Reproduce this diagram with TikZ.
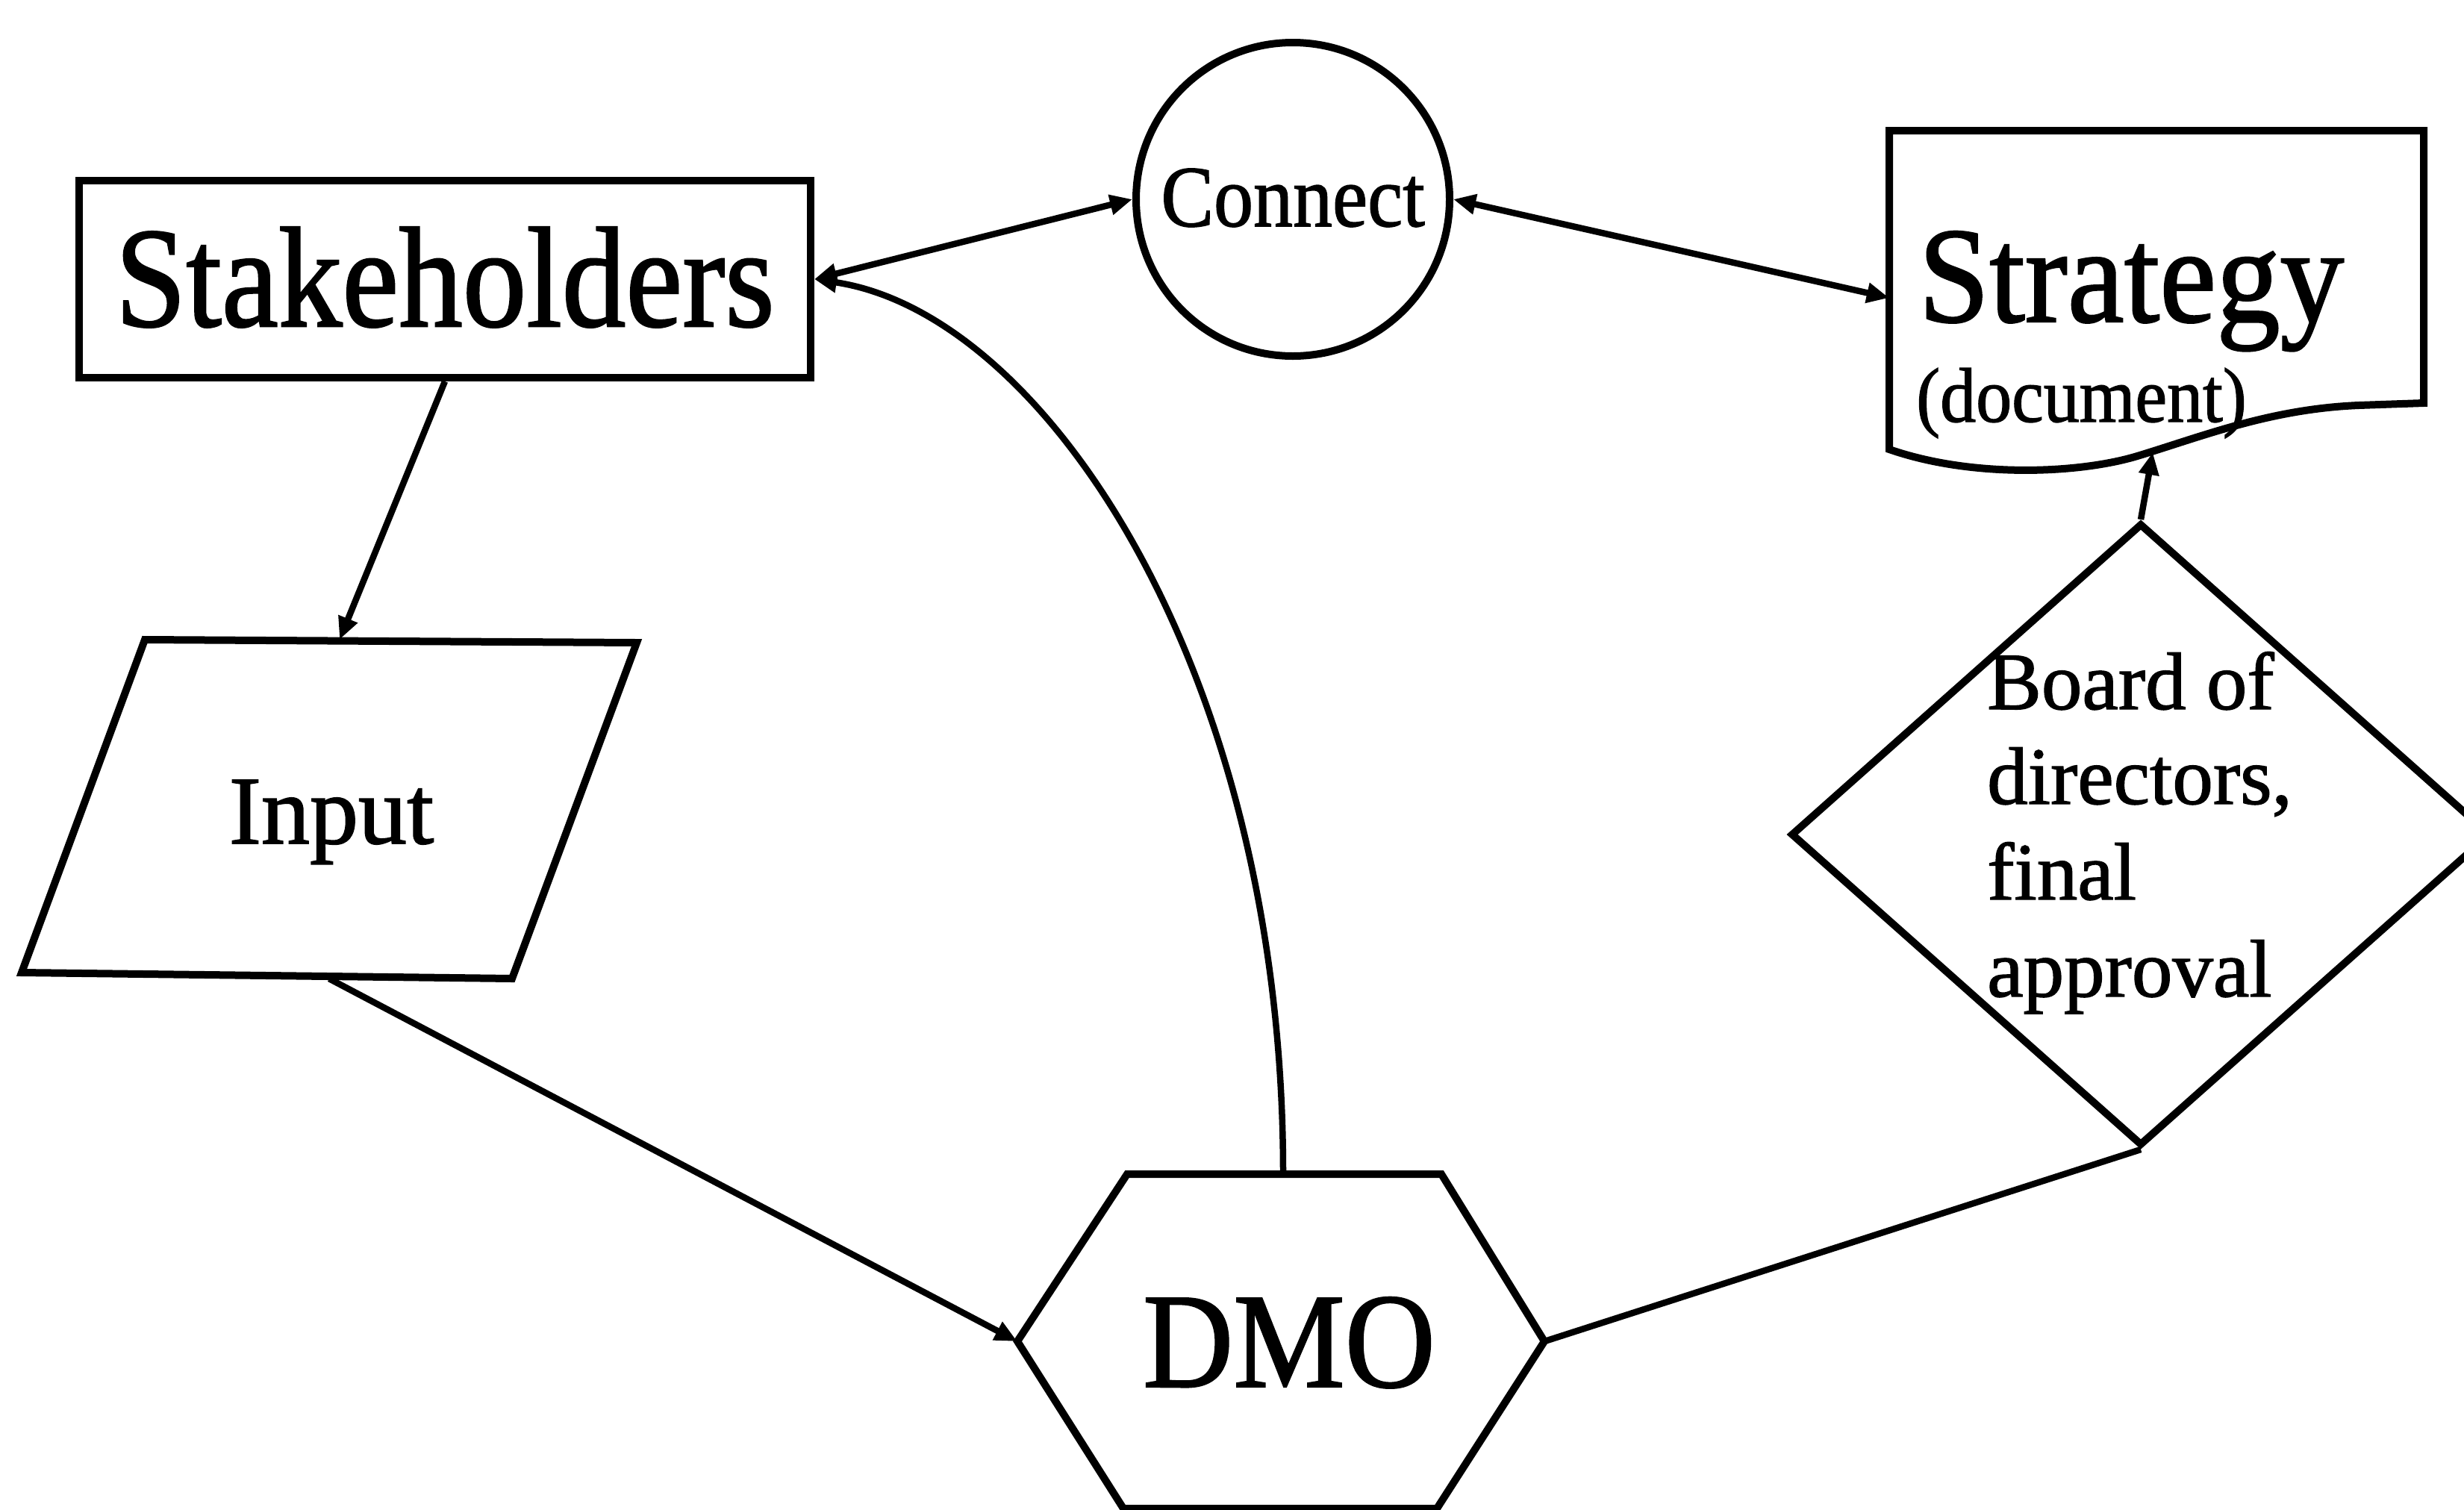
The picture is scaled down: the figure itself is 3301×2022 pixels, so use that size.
\documentclass[tikz,border=0pt]{standalone}
\usepackage{fontspec}
\setmainfont{Liberation Serif}
\newfontfamily\printface{Liberation Serif}[FakeBold=1.3]
\usepackage{graphicx}
\usetikzlibrary{arrows.meta,shapes.geometric}
\newcommand{\vstretch}[2]{\scalebox{1}[#1]{#2}}
\begin{document}
\begin{tikzpicture}[x=1pt,y=-1pt,
  shapeline/.style={draw=black, line width=10pt, line join=miter},
  link/.style={draw=black, line width=8.5pt},
  ahead/.tip={Triangle[length=30pt,width=26pt]},
  onetip/.style={-ahead},
  twotips/.style={ahead-ahead},
  label/.style={inner sep=0pt, text=black},
  anchorbox/.style={inner sep=0pt, draw=none}
]
\path[use as bounding box] (0,0) rectangle (3301,2022);
\fill[white] (0,0) rectangle (3301,2022);
\clip (0,0) rectangle (3301,2022);

% Stakeholders box
\node[shapeline, rectangle, minimum width=980pt, minimum height=264pt, inner sep=0pt] (stake) at (596,374) {};
\node[label, anchor=base, font=\printface\fontsize{171pt}{171pt}\selectfont] (staketext) at (596,437) {\vstretch{1.12}{Stakeholders}};

% Connect circle
\node[shapeline, circle, minimum size=420pt, inner sep=0pt] (connect) at (1732,267) {};
\node[label, anchor=base, font=\printface\fontsize{106pt}{106pt}\selectfont] (connecttext) at (1732,303) {\vstretch{1.1}{Connect}};

% Strategy document with wavy lower edge
\draw[shapeline] (2531,175) -- (3247,175) -- (3247,540) -- (3160,543)
  .. controls (3040,548) and (2950,585) .. (2860,612)
  .. controls (2780,635) and (2640,640) .. (2531,602) -- cycle;
\node[anchorbox, minimum width=716pt, minimum height=448pt] (strat) at (2889,399) {};
\coordinate (stratwave) at (2884,606);
\node[label, anchor=base west, font=\printface\fontsize{171pt}{171pt}\selectfont] (strattext) at (2570,431) {\vstretch{1.07}{Strategy}};
\node[label, anchor=base west, font=\printface\fontsize{96pt}{96pt}\selectfont] (doctext) at (2567,565) {\vstretch{1.08}{(document)}};

% Input parallelogram
\draw[shapeline] (194,857) -- (853,861) -- (686,1311) -- (29,1303) -- cycle;
\node[anchorbox, minimum width=824pt, minimum height=454pt] (input) at (441,1084) {};
\node[label, anchor=base, font=\printface\fontsize{130pt}{130pt}\selectfont] (inputtext) at (444,1130) {Input};

% DMO hexagon
\draw[shapeline] (1510,1573) -- (1931,1573) -- (2069,1797) -- (1925,2021) -- (1505,2021) -- (1363,1797) -- cycle;
\node[anchorbox, minimum width=706pt, minimum height=448pt] (dmo) at (1716,1797) {};
\node[label, anchor=base, font=\printface\fontsize{168pt}{168pt}\selectfont] (dmotext) at (1727,1858) {\vstretch{1.08}{DMO}};

% Board decision diamond
\node[shapeline, diamond, minimum width=938pt, minimum height=834pt, inner sep=0pt] (board) at (2868,1118) {};
\node[label, anchor=base west, font=\printface\fontsize{109pt}{109pt}\selectfont] (boardA) at (2662,950) {Board of};
\node[label, anchor=base west, font=\printface\fontsize{109pt}{109pt}\selectfont] (boardB) at (2662,1077) {directors,};
\node[label, anchor=base west, font=\printface\fontsize{109pt}{109pt}\selectfont] (boardC) at (2662,1205) {final};
\node[label, anchor=base west, font=\printface\fontsize{109pt}{109pt}\selectfont] (boardD) at (2662,1335) {approval};

% Connectors
\draw[link, twotips] (stake.east) -- (connect.west);
\draw[link, twotips] (connect.east) -- (strat.west);
\draw[link, onetip] (stake.south) -- ([xshift=14pt]input.north);
\draw[link, onetip] (input.south) -- (dmo.west);
\draw[link] (dmo.east) -- (board.south);
\draw[link, onetip] (board.north) -- (stratwave);
\draw[link, onetip] ([xshift=3pt]dmo.north) .. controls (1719,900) and (1400,420) .. (stake.east);
\end{tikzpicture}
\end{document}
